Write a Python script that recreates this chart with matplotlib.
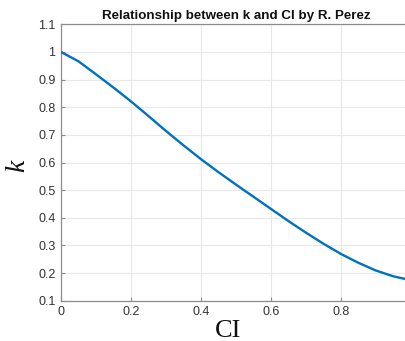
import matplotlib
matplotlib.use("Agg")
import matplotlib.pyplot as plt

ci = [0.0, 0.05, 0.1, 0.15, 0.2, 0.25, 0.3, 0.35, 0.4, 0.45, 0.5,
      0.55, 0.6, 0.65, 0.7, 0.75, 0.8, 0.85, 0.9, 0.95, 1.0]
k = [1.000, 0.966, 0.919, 0.871, 0.821, 0.768, 0.714, 0.662, 0.612, 0.565, 0.520,
     0.476, 0.432, 0.388, 0.346, 0.306, 0.269, 0.237, 0.209, 0.188, 0.174]
xticks = [0, 0.2, 0.4, 0.6, 0.8]
xticklabels = ["0", "0.2", "0.4", "0.6", "0.8"]
yticks = [0.1, 0.2, 0.3, 0.4, 0.5, 0.6, 0.7, 0.8, 0.9, 1.0, 1.1]
yticklabels = ["0.1", "0.2", "0.3", "0.4", "0.5", "0.6", "0.7", "0.8", "0.9", "1", "1.1"]

W, H = 406, 341
fig = plt.figure(figsize=(W / 100, H / 100), dpi=100)
left, right, top, bottom = 61, 411, 24.3, 300.7
ax = fig.add_axes([left / W, (H - bottom) / H, (right - left) / W, (bottom - top) / H])

ax.plot(ci, k, color="#0072BD", lw=1.7, solid_capstyle="butt", zorder=3)
ax.set_xlim(0, 1)
ax.set_ylim(0.1, 1.1)
ax.set_xticks(xticks)
ax.set_xticklabels(xticklabels)
ax.set_yticks(yticks)
ax.set_yticklabels(yticklabels)

ax.grid(True, color="#e8e8e8", lw=0.8)
ax.set_axisbelow(True)
for s in ["left", "bottom", "top"]:
    ax.spines[s].set_color("#8c8c8c")
    ax.spines[s].set_linewidth(0.9)
ax.spines["right"].set_visible(False)
ax.tick_params(direction="in", length=3, width=0.8, color="#8c8c8c",
               labelsize=9, labelcolor="#333333", pad=4)
for lab in ax.get_xticklabels() + ax.get_yticklabels():
    lab.set_fontfamily("Liberation Sans")

ax.set_title("Relationship between k and CI by R. Perez", fontfamily="Liberation Sans",
             fontweight="bold", fontsize=9.6, color="#111111", pad=4)
ax.set_xlabel("CI", fontfamily="Liberation Serif", fontsize=19, color="#111111")
ax.xaxis.set_label_coords((228 - left) / (right - left), -(331 - bottom) / (bottom - top), transform=ax.transAxes)
ax.xaxis.label.set_va("center")
ax.set_ylabel("k", fontfamily="Liberation Serif", fontstyle="italic", fontsize=20, color="#111111")
ax.yaxis.set_label_coords(-(left - 18) / (right - left), (bottom - 166) / (bottom - top), transform=ax.transAxes)
ax.yaxis.label.set_va("center")

fig.savefig("out.png", dpi=100)
